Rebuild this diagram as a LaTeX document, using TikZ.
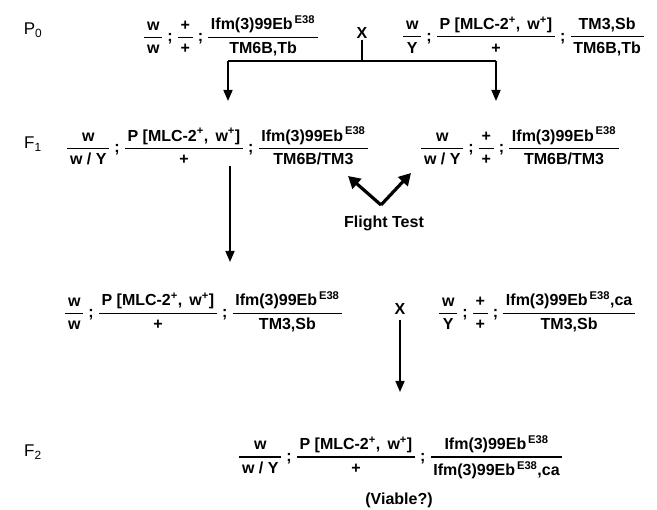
\documentclass[tikz,border=0pt]{standalone}
\usepackage{amsmath}
\usepackage{fontspec}
\setmainfont{Liberation Sans}
\usetikzlibrary{arrows.meta}

% genotype pieces
\newcommand{\gf}[2]{$\genfrac{}{}{1.2pt}{0}{\text{\,#1\,}}{\text{\,#2\,}}$}
\newcommand{\gsep}{\hspace{4pt};\hspace{4pt}}
\newcommand{\ifm}{Ifm(3)99Eb\textsuperscript{\,E38}}
\newcommand{\mlc}{P [MLC-2\textsuperscript{+}, \,w\textsuperscript{+}]}

\begin{document}
\begin{tikzpicture}[
  x=1pt, y=-1pt,
  geno/.style={anchor=west, inner sep=0pt, font=\fontsize{16}{18}\selectfont\bfseries},
  gen/.style={inner sep=0pt, font=\fontsize{17}{20}\selectfont},
  cross/.style={inner sep=1pt, font=\fontsize{16}{18}\selectfont\bfseries},
  note/.style={inner sep=0pt, font=\fontsize{16}{18}\selectfont\bfseries},
  arr/.style={line width=1.6pt, -{Triangle[length=11pt,width=9pt]}},
  bigarr/.style={line width=3.2pt, -{Triangle[length=12pt,width=13pt]}}
]
\useasboundingbox (0,0) rectangle (657,510);

% Generation labels
\node[gen] (p0) at (33,30) {P\textsubscript{0}};
\node[gen] (f1) at (33,144) {F\textsubscript{1}};
\node[gen] (f2) at (33,452) {F\textsubscript{2}};

% Parents
\node[geno] (p0f) at (143,36) {\gf{w}{w}\gsep\gf{+}{+}\gsep\gf{\ifm}{TM6B,Tb}};
\node[cross] (xtop) at (362,33) {X};
\node[geno] (p0m) at (402,36) {\gf{w}{Y}\gsep\gf{\mlc}{+}\gsep\gf{TM3,Sb}{TM6B,Tb}};

% F1
\node[geno] (f1a) at (66,146) {\gf{w}{w / Y}\gsep\gf{\mlc}{+}\gsep\gf{\ifm}{TM6B/TM3}};
\node[geno] (f1b) at (420,146) {\gf{w}{w / Y}\gsep\gf{+}{+}\gsep\gf{\ifm}{TM6B/TM3}};

% Flight test
\coordinate (vtx) at (381,205);
\coordinate (ftL) at (348,176);
\coordinate (ftR) at (411,173);
\draw[bigarr] (vtx) -- (ftL);
\draw[bigarr] (vtx) -- (ftR);
\node[note] (flight) at (384,223) {Flight Test};

% Second cross
\node[geno] (mida) at (64,312) {\gf{w}{w}\gsep\gf{\mlc}{+}\gsep\gf{\ifm}{TM3,Sb}};
\node[cross] (xmid) at (400,309) {X};
\node[geno] (midb) at (438,312) {\gf{w}{Y}\gsep\gf{+}{+}\gsep\gf{\ifm,ca}{TM3,Sb}};

% F2
\node[geno] (f2a) at (238,457) {\gf{w}{w / Y}\gsep\gf{\mlc}{+}\gsep\gf{\ifm}{\ifm,ca}};
\node[note] (viable) at (399,500) {(Viable?)};

% Connectors
\coordinate (barL) at (228,61);
\coordinate (barR) at (496,61);
\coordinate (tipL) at (228,101);
\coordinate (tipR) at (496,101);
\draw[line width=1.6pt] (xtop.south) -- (xtop.south |- barL);
\draw[line width=1.6pt] (barL) -- (barR);
\draw[arr] (barL) -- (tipL);
\draw[arr] (barR) -- (tipR);

\coordinate (f1down) at (230,166);
\coordinate (f1tip) at (230,262);
\draw[arr] (f1down) -- (f1tip);

\coordinate (midtip) at (400,392);
\draw[arr, shorten <=4pt] (xmid.south) -- (midtip);

\end{tikzpicture}
\end{document}
